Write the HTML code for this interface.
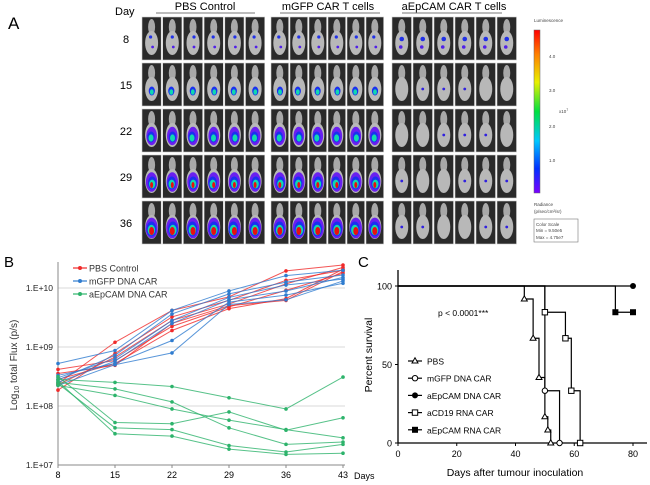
<!DOCTYPE html>
<html><head><meta charset="utf-8"><style>
html,body{margin:0;padding:0;background:#fff;}
svg{display:block;font-family:"Liberation Sans",sans-serif;}
</style></head><body>
<svg id="fig" width="650" height="485" viewBox="0 0 650 485" xmlns="http://www.w3.org/2000/svg">
<defs>
<linearGradient id="rainbow" x1="0" y1="1" x2="0" y2="0">
<stop offset="0" stop-color="#7a00ff"/><stop offset="0.15" stop-color="#0030ff"/><stop offset="0.32" stop-color="#00c8ff"/><stop offset="0.5" stop-color="#00e040"/><stop offset="0.68" stop-color="#e8f000"/><stop offset="0.85" stop-color="#ff8000"/><stop offset="1" stop-color="#ff0000"/>
</linearGradient>
</defs>
<!-- Panel A -->
<g>
<text x="8" y="29" font-size="17">A</text>
<text x="115" y="15" font-size="11">Day</text>
<text x="205" y="10" font-size="11" text-anchor="middle">PBS Control</text>
<line x1="156" y1="13" x2="255" y2="13" stroke="#777" stroke-width="1"/>
<text x="328" y="10" font-size="11" text-anchor="middle">mGFP CAR T cells</text>
<line x1="280" y1="13" x2="380" y2="13" stroke="#777" stroke-width="1"/>
<text x="454" y="10" font-size="11" text-anchor="middle">aEpCAM CAR T cells</text>
<line x1="402" y1="13" x2="502" y2="13" stroke="#777" stroke-width="1"/>
<g id="tiles"></g>
<text x="534" y="22" font-size="4.5" fill="#444">Luminescence</text>
<rect x="534" y="30" width="6" height="163" fill="url(#rainbow)" stroke="#666" stroke-width="0.5"/>
<text x="549" y="58" font-size="4.5" fill="#444">4.0</text>
<text x="549" y="92" font-size="4.5" fill="#444">3.0</text>
<text x="549" y="128" font-size="4.5" fill="#444">2.0</text>
<text x="549" y="162" font-size="4.5" fill="#444">1.0</text>
<text x="559" y="113" font-size="4.5" fill="#444">x10<tspan dy="-2" font-size="3.5">7</tspan></text>
<text x="534" y="206" font-size="4.5" fill="#444">Radiance</text>
<text x="534" y="213" font-size="4.5" fill="#444">(p/sec/cm²/sr)</text>
<rect x="534" y="219" width="44" height="23" fill="none" stroke="#777" stroke-width="0.6"/>
<text x="536" y="226" font-size="4.5" fill="#444">Color Scale</text>
<text x="536" y="232" font-size="4.5" fill="#444">Min = 9.50e5</text>
<text x="536" y="239" font-size="4.5" fill="#444">Max = 4.75e7</text>
</g>
<!-- Panel B -->
<g id="panelB">
<text x="4" y="267" font-size="15">B</text>
<text transform="translate(17,365) rotate(-90)" font-size="10" text-anchor="middle" fill="#333">Log<tspan font-size="7" dy="2">10</tspan><tspan dy="-2"> total Flux (p/s)</tspan></text>
<text x="354" y="479" font-size="9">Days</text>
</g>
<!-- Panel C -->
<g id="panelC">
<text x="358" y="267" font-size="15">C</text>
<text transform="translate(372,355) rotate(-90)" font-size="10.5" text-anchor="middle">Percent survival</text>
<text x="515" y="476" font-size="10.5" text-anchor="middle">Days after tumour inoculation</text>
<text x="438" y="316" font-size="8.5">p &lt; 0.0001***</text>
</g>
</svg>
<script>
// ---------- Panel B data ----------
const bDays = [8, 15, 22, 29, 36, 43];
const bTickLabels = ["1.E+07", "1.E+08", "1.E+09", "1.E+10"];
const bTickLogs = [7, 8, 9, 10];
const pbsSeries = [
  [8.38, 9.08, 9.62, 9.85, 10.29, 10.39],
  [8.27, 8.89, 9.51, 9.79, 10.13, 10.30],
  [8.36, 8.83, 9.45, 9.73, 10.07, 10.35],
  [8.62, 8.77, 9.35, 9.68, 9.96, 10.25],
  [8.45, 8.72, 9.28, 9.65, 9.82, 10.32],
  [8.55, 8.69, 9.40, 9.70, 9.79, 10.28]
];
const mgfpSeries = [
  [8.72, 8.94, 9.62, 9.95, 10.21, 10.30],
  [8.44, 8.86, 9.56, 9.90, 10.10, 10.22],
  [8.48, 8.80, 9.45, 9.84, 10.05, 10.15],
  [8.40, 8.76, 9.40, 9.80, 9.95, 10.18],
  [8.52, 8.72, 9.11, 9.76, 9.88, 10.08],
  [8.35, 8.70, 8.90, 9.72, 9.80, 10.12]
];
const aepSeries = [
  [8.45, 8.40, 8.33, 8.14, 7.95, 8.49],
  [8.40, 8.29, 8.07, 7.63, 7.35, 7.39],
  [8.35, 8.18, 7.95, 7.76, 7.60, 7.46],
  [8.50, 7.72, 7.70, 7.90, 7.59, 7.80],
  [8.38, 7.63, 7.60, 7.33, 7.22, 7.35],
  [8.42, 7.53, 7.49, 7.27, 7.18, 7.20]
];
const bLegend = ["PBS Control", "mGFP DNA CAR", "aEpCAM DNA CAR"];

// ---------- Panel C data ----------
const cXTicks = [0, 20, 40, 60, 80];
const cYTicks = [0, 50, 100];
const survPBS = [[0,100],[43,91.7],[46,66.7],[48,41.7],[50,16.7],[51,8.3],[52,0]];
const survMGFP = [[0,100],[50,33.3],[55,0]];
const survAepDNA = [[0,100],[80,100]];
const survCD19 = [[0,100],[50,83.3],[57,66.7],[59,33.3],[62,0]];
const survAepRNA = [[0,100],[74,83.3],[80,83.3]];
const cLegend = ["PBS", "mGFP DNA CAR", "aEpCAM DNA CAR", "aCD19 RNA CAR", "aEpCAM RNA CAR"];

const NS = "http://www.w3.org/2000/svg";
function mk(tag, attrs, parent) {
  const e = document.createElementNS(NS, tag);
  for (const k in attrs) e.setAttribute(k, attrs[k]);
  parent.appendChild(e);
  return e;
}

// ---------- Panel A tiles ----------
(function () {
  const g = document.getElementById('tiles');
  const groupX = [142, 271, 392];
  const pitch = [20.7, 19, 21];
  const tw = [19.2, 17.6, 19.5];
  const rowY = [17, 63, 109, 155, 201];
  const days = ["8", "15", "22", "29", "36"];
  days.forEach((d, r) => {
    const t = mk('text', {x: 126, y: rowY[r] + 26, 'font-size': 11, 'text-anchor': 'middle'}, g);
    t.textContent = d;
    
    
  });
  groupX.forEach((gx, gi) => {
    for (let r = 0; r < 5; r++) {
      for (let c = 0; c < 6; c++) {
        const x = gx + c * pitch[gi], y = rowY[r], w = tw[gi];
        const tile = mk('g', {}, g);
        
        
        mk('rect', {x: x, y: y, width: w, height: 43, fill: '#2a2a2a', stroke: '#ccc', 'stroke-width': 0.6}, tile);
        const cx = x + w / 2;
        mk('ellipse', {cx: cx, cy: y + 10, rx: 3.5, ry: 8, fill: '#a8a8a8'}, tile);
        mk('ellipse', {cx: cx, cy: y + 26, rx: 6.5, ry: 12, fill: '#b8b8b8'}, tile);
        const s = (c * 7 + r * 3 + gi * 5) % 5;
        if (gi < 2) {
          const k = r;
          if (k >= 2) mk('ellipse', {cx: cx, cy: y + 27, rx: 4.5 + k * 0.4, ry: 8 + k * 0.6, fill: '#6a20f0'}, tile);
          if (k >= 1) mk('ellipse', {cx: cx - 1 + s * 0.4, cy: y + 28, rx: 2.5 + k * 0.6, ry: 3.5 + k, fill: '#1a30f0'}, tile);
          if (k >= 1) mk('ellipse', {cx: cx - 1 + s * 0.4, cy: y + 29, rx: 1.3 + k * 0.6, ry: 2 + k * 0.8, fill: '#10d8b0'}, tile);
          if (k >= 3) mk('ellipse', {cx: cx, cy: y + 30, rx: k - 1.5, ry: k, fill: '#e81010'}, tile);
          if (k === 0) {
            mk('circle', {cx: cx - 1 + s * 0.5, cy: y + 20, r: 1.6, fill: '#2030e8'}, tile);
            mk('circle', {cx: cx + 1, cy: y + 30, r: 1.4, fill: '#5020e8'}, tile);
          }
        } else {
          if (r === 0) {
            mk('circle', {cx: cx, cy: y + 22, r: 2.3, fill: '#2030e8'}, tile);
            mk('circle', {cx: cx - 1, cy: y + 30, r: 1.8, fill: '#5020e8'}, tile);
          } else if (s % 2 === 0) {
            mk('circle', {cx: cx, cy: y + 26, r: 1.4, fill: '#3020e0'}, tile);
          }
        }
      }
    }
  });
})();

// ---------- Panel B chart ----------
(function () {
  const g = document.getElementById('panelB');
  const x0 = 58, dxPer = 57 / 7;
  const X = d => x0 + (d - 8) * dxPer;
  const Y = l => 288 + (10 - l) * 59;
  bTickLogs.forEach((l, i) => {
    if (l > 7) {
      const gl = mk('line', {x1: x0, x2: 345, y1: Y(l), y2: Y(l), stroke: '#d9d9d9', 'stroke-width': 1}, g);
      
      
    }
    const t = mk('text', {x: 53, y: Y(l) + 3, 'font-size': 8.5, 'text-anchor': 'end', fill: '#222'}, g);
    t.textContent = bTickLabels[i];
    
    
  });
  const ax = mk('path', {d: `M${x0} 262 V${Y(7)} H345`, stroke: '#888', fill: 'none', 'stroke-width': 1}, g);
  
  
  bDays.forEach(d => {
    mk('line', {x1: X(d), x2: X(d), y1: Y(7), y2: Y(7) + 3, stroke: '#888'}, g);
    const t = mk('text', {x: X(d), y: 478, 'font-size': 9, 'text-anchor': 'middle'}, g);
    t.textContent = d;
    
    
  });
  const groups = [[pbsSeries, '#f02a2a', 'pbs'], [mgfpSeries, '#2f7ccf', 'mgfp'], [aepSeries, '#2db36b', 'aepcam']];
  groups.forEach(([ser, col, nm]) => {
    ser.forEach(vals => {
      const pts = vals.map((v, i) => X(bDays[i]) + ',' + Y(v)).join(' ');
      const pl = mk('polyline', {points: pts, fill: 'none', stroke: col, 'stroke-width': 1, 'stroke-opacity': 0.8}, g);
      
      
      vals.forEach((v, i) => {
        const c = mk('circle', {cx: X(bDays[i]), cy: Y(v), r: 1.8, fill: col}, g);
        
        
      });
    });
  });
  const cols = ['#f02a2a', '#2f7ccf', '#2db36b'];
  bLegend.forEach((lab, i) => {
    const y = 268 + i * 13;
    const le = mk('g', {}, g);
    
    
    mk('line', {x1: 73, x2: 87, y1: y, y2: y, stroke: cols[i], 'stroke-width': 1.2}, le);
    mk('circle', {cx: 80, cy: y, r: 2, fill: cols[i]}, le);
    const t = mk('text', {x: 89, y: y + 3.5, 'font-size': 9, fill: '#333'}, le);
    t.textContent = lab;
  });
})();

// ---------- Panel C chart ----------
(function () {
  const g = document.getElementById('panelC');
  const X = d => 398 + d * (235 / 80);
  const Y = p => 443 - p * (157 / 100);
  const ax = mk('path', {d: `M398 270 V443 H647`, stroke: '#000', fill: 'none', 'stroke-width': 1.3}, g);
  
  
  cXTicks.forEach(d => {
    mk('line', {x1: X(d), x2: X(d), y1: 443, y2: 446, stroke: '#000'}, g);
    const t = mk('text', {x: X(d), y: 457, 'font-size': 9, 'text-anchor': 'middle'}, g);
    t.textContent = d;
    
    
  });
  cYTicks.forEach(p => {
    mk('line', {x1: 395, x2: 398, y1: Y(p), y2: Y(p), stroke: '#000'}, g);
    const t = mk('text', {x: 392, y: Y(p) + 3.5, 'font-size': 9, 'text-anchor': 'end'}, g);
    t.textContent = p;
    
    
  });
  function marker(parent, type, x, y) {
    if (type === 'tri') return mk('path', {d: `M${x} ${y - 3.2} L${x + 3} ${y + 2} L${x - 3} ${y + 2} Z`, fill: '#fff', stroke: '#000', 'stroke-width': 1}, parent);
    if (type === 'oc') return mk('circle', {cx: x, cy: y, r: 2.7, fill: '#fff', stroke: '#000', 'stroke-width': 1}, parent);
    if (type === 'fc') return mk('circle', {cx: x, cy: y, r: 3, fill: '#000'}, parent);
    if (type === 'os') return mk('rect', {x: x - 2.7, y: y - 2.7, width: 5.4, height: 5.4, fill: '#fff', stroke: '#000', 'stroke-width': 1}, parent);
    return mk('rect', {x: x - 3, y: y - 3, width: 6, height: 6, fill: '#000'}, parent);
  }
  const curves = [[survPBS, 'tri', 'pbs'], [survMGFP, 'oc', 'mgfp'], [survAepDNA, 'fc', 'aepcam-dna'], [survCD19, 'os', 'acd19-rna'], [survAepRNA, 'fs', 'aepcam-rna']];
  curves.forEach(([pts, mt, nm]) => {
    let d = `M${X(pts[0][0])} ${Y(pts[0][1])}`;
    for (let i = 1; i < pts.length; i++) d += ` H${X(pts[i][0])} V${Y(pts[i][1])}`;
    const p = mk('path', {d: d, fill: 'none', stroke: '#000', 'stroke-width': 1.2}, g);
    
    
    for (let i = 1; i < pts.length; i++) {
      const m = marker(g, mt, X(pts[i][0]), Y(pts[i][1]));
      
      
    }
  });
  const mts = ['tri', 'oc', 'fc', 'os', 'fs'];
  cLegend.forEach((lab, i) => {
    const y = 361 + i * 17.2;
    const le = mk('g', {}, g);
    
    
    mk('line', {x1: 408, x2: 422, y1: y, y2: y, stroke: '#000', 'stroke-width': 1.2}, le);
    marker(le, mts[i], 415, y);
    const t = mk('text', {x: 427, y: y + 3.5, 'font-size': 8.5}, le);
    t.textContent = lab;
  });
})();
</script>
</body></html>
